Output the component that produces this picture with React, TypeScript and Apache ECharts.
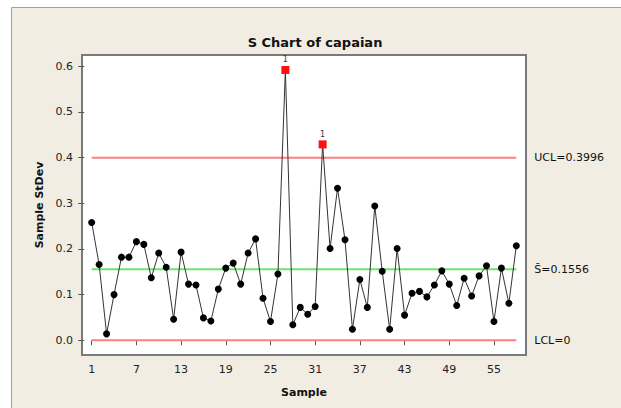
import React, { useEffect, useRef } from "react";
import * as echarts from "echarts";

const samples: number[] = Array.from({ length: 58 }, (_, i) => i + 1);
const stdev: number[] = [
  0.258, 0.166, 0.014, 0.1, 0.182, 0.182, 0.216, 0.21, 0.137, 0.191,
  0.16, 0.046, 0.193, 0.123, 0.121, 0.049, 0.042, 0.112, 0.158, 0.169,
  0.123, 0.191, 0.222, 0.092, 0.041, 0.145, 0.592, 0.034, 0.072, 0.057,
  0.074, 0.429, 0.201, 0.333, 0.22, 0.024, 0.133, 0.072, 0.294, 0.151,
  0.024, 0.201, 0.055, 0.103, 0.107, 0.095, 0.121, 0.152, 0.123, 0.076,
  0.136, 0.097, 0.141, 0.163, 0.041, 0.158, 0.081, 0.207,
];
const outOfControl: number[] = [27, 32];
const UCL = 0.3996;
const CL = 0.1556;
const LCL = 0;
const xTicks: number[] = [1, 7, 13, 19, 25, 31, 37, 43, 49, 55];
const yTicks: number[] = [0, 0.1, 0.2, 0.3, 0.4, 0.5, 0.6];

const FONT = "DejaVu Sans";

export default function App() {
  const ref = useRef<HTMLDivElement>(null);
  useEffect(() => {
    if (!ref.current) return;
    const chart = echarts.init(ref.current, null, { renderer: "svg" });
    const first = samples[0];
    const last = samples[samples.length - 1];
    const limitLine = (value: number, color: string, text: string, z: number) => ({
      type: "line",
      data: [
        [first, value],
        [last, value],
      ],
      symbol: "none",
      lineStyle: { color, width: 2 },
      endLabel: {
        show: true,
        formatter: text,
        distance: 18,
        color: "#111",
        fontFamily: FONT,
        fontSize: 11,
      },
      z,
      silent: true,
    });
    chart.setOption({
      animation: false,
      backgroundColor: "#ffffff",
      title: {
        text: "S Chart of capaian",
        left: 310,
        top: 31,
        textAlign: "center",
        textStyle: { fontFamily: FONT, fontSize: 13, fontWeight: "bold", color: "#111" },
      },
      graphic: [
        {
          type: "rect",
          z: -10,
          shape: { x: 11.5, y: 7.5, width: 620, height: 410 },
          style: { fill: "#F1EDE3", stroke: "#A0A0A0", lineWidth: 1 },
          silent: true,
        },
      ],
      grid: {
        left: 82,
        top: 55,
        right: 95,
        bottom: 53,
        show: true,
        backgroundColor: "#ffffff",
        borderColor: "#7a7a7a",
        borderWidth: 2,
      },
      xAxis: {
        type: "value",
        min: -0.3,
        max: 59.3,
        name: "Sample",
        nameLocation: "middle",
        nameGap: 32,
        nameTextStyle: { fontFamily: FONT, fontSize: 11, fontWeight: "bold", color: "#111" },
        axisLine: { show: false },
        splitLine: { show: false },
        axisTick: { show: true, customValues: xTicks, length: 5, lineStyle: { color: "#555" } },
        axisLabel: {
          customValues: xTicks,
          fontFamily: FONT,
          fontSize: 11,
          color: "#222",
          margin: 9,
        },
      },
      yAxis: {
        type: "value",
        min: -0.0323,
        max: 0.6248,
        name: "Sample StDev",
        nameLocation: "middle",
        nameGap: 34,
        nameTextStyle: { fontFamily: FONT, fontSize: 11, fontWeight: "bold", color: "#111" },
        axisLine: { show: false },
        splitLine: { show: false },
        axisTick: { show: true, customValues: yTicks, length: 6, lineStyle: { color: "#555" } },
        axisLabel: {
          customValues: yTicks,
          formatter: (v: number) => v.toFixed(1),
          fontFamily: FONT,
          fontSize: 11,
          color: "#222",
          margin: 9,
        },
      },
      series: [
        limitLine(UCL, "#FF7F7F", "UCL=0.3996", 2),
        limitLine(CL, "#6FE36F", "S\u0304=0.1556", 2),
        limitLine(LCL, "#FF7F7F", "LCL=0", 2),
        {
          type: "line",
          z: 5,
          data: samples.map((s, i) => {
            if (outOfControl.includes(s)) {
              return {
                value: [s, stdev[i]],
                symbol: "rect",
                symbolSize: 8,
                itemStyle: { color: "#FF1010" },
                label: {
                  show: true,
                  position: "top",
                  distance: 2,
                  formatter: "1",
                  fontSize: 8,
                  fontFamily: FONT,
                  color: "#333",
                },
              };
            }
            return { value: [s, stdev[i]] };
          }),
          symbol: "circle",
          symbolSize: 7,
          itemStyle: { color: "#000000" },
          lineStyle: { color: "#333333", width: 1 },
          silent: true,
        },
      ],
    });
    return () => chart.dispose();
  }, []);
  return (
    <div
      ref={ref}
      style={{ position: "fixed", left: 0, top: 0, width: 621, height: 408 }}
    />
  );
}
